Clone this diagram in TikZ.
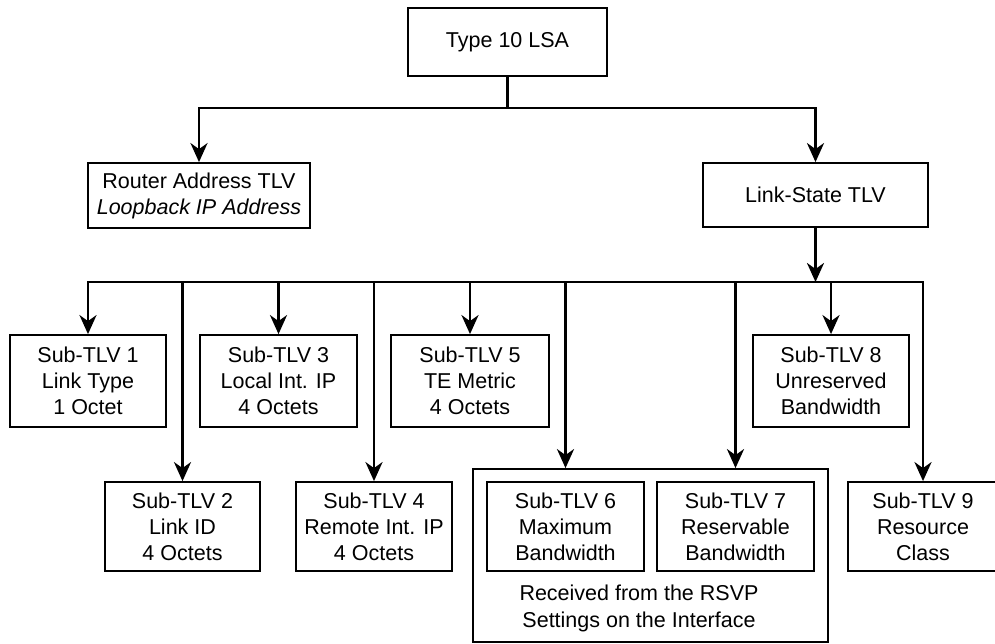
\documentclass[tikz,border=0pt]{standalone}
\usepackage{fontspec}
\setmainfont{Liberation Sans}
\usetikzlibrary{arrows.meta}
\begin{document}
\begin{tikzpicture}[x=1pt,y=-1pt,
  box/.style={draw,line width=1.8pt,inner sep=0pt,align=center,font=\fontsize{21.5}{26}\selectfont},
  lbl/.style={inner sep=0pt,align=center,font=\fontsize{21.5}{27}\selectfont},
  conn/.style={line width=2.8pt},
  arr/.style={conn,-{Stealth[length=19pt,width=17pt,inset=6pt]}}]
\clip (0,0) rectangle (995,643);
% top level
\node[box,minimum width=199pt,minimum height=68pt] (lsa) at (507.5,42) {Type 10 LSA};
\node[box,minimum width=222pt,minimum height=65pt] (rtr) at (199,195.5) {Router Address TLV\\\textit{Loopback IP Address}};
\node[box,minimum width=225pt,minimum height=64pt] (ls) at (815.5,195) {Link-State TLV};
% group box
\node[draw,line width=1.8pt,inner sep=0pt,minimum width=355pt,minimum height=173pt] (grp) at (650.5,555.5) {};
\node[lbl] (rsvp) at (639,608.5) {Received from the RSVP\\Settings on the Interface};
% first row of sub-TLVs
\node[box,minimum width=156pt,minimum height=92pt] (s1) at (88,381) {Sub-TLV 1\\Link Type\\1 Octet};
\node[box,minimum width=157pt,minimum height=92pt] (s3) at (278.5,381) {Sub-TLV 3\\Local Int. IP\\4 Octets};
\node[box,minimum width=158pt,minimum height=92pt] (s5) at (470,381) {Sub-TLV 5\\TE Metric\\4 Octets};
\node[box,minimum width=156pt,minimum height=92pt] (s8) at (831,381) {Sub-TLV 8\\Unreserved\\Bandwidth};
% second row
\node[box,minimum width=155pt,minimum height=89pt] (s2) at (182.5,526.5) {Sub-TLV 2\\Link ID\\4 Octets};
\node[box,minimum width=156pt,minimum height=89pt] (s4) at (374,526.5) {Sub-TLV 4\\Remote Int. IP\\4 Octets};
\node[box,minimum width=157pt,minimum height=89pt] (s6) at (565.5,526.5) {Sub-TLV 6\\Maximum\\Bandwidth};
\node[box,minimum width=157pt,minimum height=89pt] (s7) at (735.5,526.5) {Sub-TLV 7\\Reservable\\Bandwidth};
\node[box,minimum width=150pt,minimum height=89pt] (s9) at (923,526.5) {Sub-TLV 9\\Resource\\Class};
% connectors top
\coordinate (tb) at (507.5,108);
\draw[arr] (lsa.south) -- (tb) -| (rtr.north);
\draw[arr] (tb) -| (ls.north);
% connectors lower
\coordinate (lb) at (815.5,282);
\draw[arr] (ls.south) -- (lb);
\draw[arr] (lb) -| (s1.north);
\draw[arr] (lb) -| (s9.north);
\draw[arr] (s2.north |- lb) -- (s2.north);
\draw[arr] (s3.north |- lb) -- (s3.north);
\draw[arr] (s4.north |- lb) -- (s4.north);
\draw[arr] (s5.north |- lb) -- (s5.north);
\draw[arr] (s6.north |- lb) -- (s6.north |- grp.north);
\draw[arr] (s7.north |- lb) -- (s7.north |- grp.north);
\draw[arr] (s8.north |- lb) -- (s8.north);
\end{tikzpicture}
\end{document}
